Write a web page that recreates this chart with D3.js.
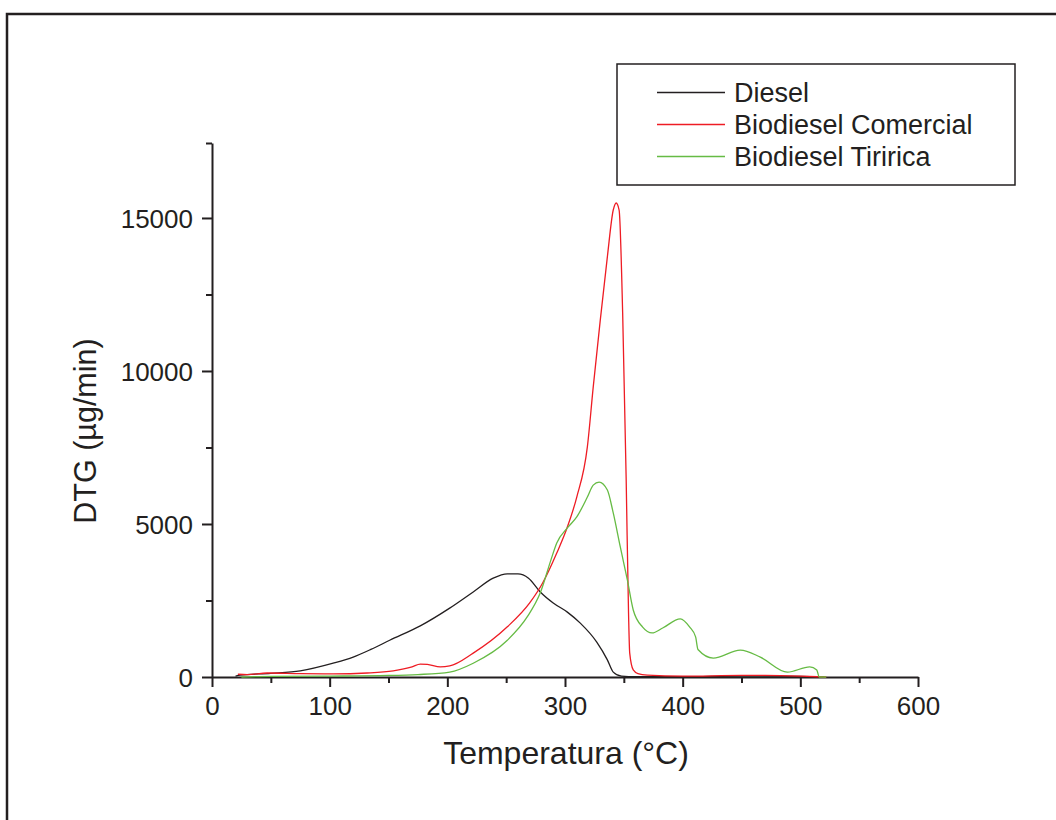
<!DOCTYPE html>
<html>
<head>
<meta charset="utf-8">
<script src="https://cdn.jsdelivr.net/npm/d3@7"></script>
<style>
  html, body { margin: 0; padding: 0; background: #fff; }
  svg { display: block; font-family: "Liberation Sans", Arial, sans-serif; }
</style>
</head>
<body>
<svg id="chart" width="1056" height="820"></svg>
<script>
// DTG curves: temperature (°C) and mass-loss rate (µg/min)
const tempDiesel = [20, 24, 50, 75, 103, 120, 135, 151, 177, 202, 222, 239, 251, 260, 269, 279, 290, 302, 313, 327, 336, 341, 348, 360, 400, 450, 500, 520];
const dtgDiesel  = [30, 60, 120, 200, 450, 650, 900, 1200, 1670, 2250, 2780, 3230, 3370, 3370, 3230, 2780, 2420, 2120, 1760, 1140, 560, 160, 30, 10, 10, 30, 20, 0];

const tempComercial = [22, 30, 47, 75, 103, 132, 154, 170, 177, 183, 194, 202, 222, 251, 270, 281, 293, 302, 310, 319, 324, 330, 336, 341, 343.5, 346, 349, 352, 354, 355, 358, 362, 370, 400, 450, 470, 500, 522];
const dtgComercial  = [90, 80, 130, 110, 100, 130, 200, 330, 420, 410, 330, 360, 780, 1640, 2420, 3070, 4050, 4900, 5880, 7520, 9480, 11670, 13730, 15260, 15490, 15260, 11900, 6440, 2090, 780, 230, 110, 60, 30, 50, 50, 30, 0];

const tempTiririca = [25, 50, 100, 150, 175, 202, 222, 251, 268, 279, 288, 293, 302, 310, 319, 324, 329, 336, 341, 347, 353, 358, 366, 374, 383, 398, 406, 411, 413, 426, 449, 466, 489, 508, 514, 516, 522];
const dtgTiririca  = [0, 20, 30, 50, 80, 160, 450, 1200, 1970, 2750, 3820, 4380, 4870, 5230, 5880, 6270, 6370, 6110, 5360, 4250, 3170, 2190, 1630, 1440, 1600, 1900, 1630, 1310, 900, 620, 880, 650, 160, 330, 230, 0, 0];

const seriesNames  = ["Diesel", "Biodiesel Comercial", "Biodiesel Tiririca"];
const seriesColors = ["#231f20", "#ee1c24", "#66bb44"];

const xTicks = [0, 100, 200, 300, 400, 500, 600];
const yTicks = [0, 5000, 10000, 15000];

const svg = d3.select("#chart");

// outer frame
svg.append("rect")
  .attr("x", 7).attr("y", 14).attr("width", 1100).attr("height", 900)
  .attr("fill", "none").attr("stroke", "#231f20").attr("stroke-width", 2.5);

const x = d3.scaleLinear().domain([0, 600]).range([212, 918]);
const y = d3.scaleLinear().domain([0, 17450]).range([677, 143]);

const axisColor = "#231f20";
const tickFont = 26;

// x axis with minor ticks
const gx = svg.append("g").attr("transform", `translate(0,${y(0)})`);
gx.call(d3.axisBottom(x).tickValues(d3.range(50, 600, 100)).tickSize(6).tickFormat(""));
gx.call(g => g.select(".domain").remove());
const gx2 = svg.append("g").attr("transform", `translate(0,${y(0)})`);
gx2.call(d3.axisBottom(x).tickValues(xTicks).tickSize(10).tickSizeOuter(0).tickPadding(10).tickFormat(d3.format("d")));

// y axis with minor ticks
const gy = svg.append("g").attr("transform", `translate(${x(0)},0)`);
gy.call(d3.axisLeft(y).tickValues([2500, 7500, 12500, 17450]).tickSize(6).tickFormat(""));
gy.call(g => g.select(".domain").remove());
const gy2 = svg.append("g").attr("transform", `translate(${x(0)},0)`);
gy2.call(d3.axisLeft(y).tickValues(yTicks).tickSize(10).tickSizeOuter(0).tickPadding(9).tickFormat(d3.format("d")));

svg.selectAll("g path.domain, g .tick line")
  .attr("stroke", axisColor).attr("stroke-width", 2);
svg.selectAll("g .tick text")
  .attr("fill", axisColor).attr("font-size", tickFont)
  .attr("font-family", "'Liberation Sans', Arial, sans-serif");
gy2.selectAll(".tick text").attr("dy", "0.36em");

// axis titles
svg.append("text")
  .attr("x", 566).attr("y", 764)
  .attr("text-anchor", "middle").attr("font-size", 32).attr("fill", axisColor)
  .text("Temperatura (°C)");
svg.append("text")
  .attr("transform", `translate(96,431) rotate(-90)`)
  .attr("text-anchor", "middle").attr("font-size", 30.5).attr("fill", axisColor)
  .text("DTG (µg/min)");

// curves
const line = d3.line()
  .x(d => x(d[0])).y(d => y(d[1]))
  .curve(d3.curveMonotoneX);

const series = [
  d3.zip(tempDiesel, dtgDiesel),
  d3.zip(tempComercial, dtgComercial),
  d3.zip(tempTiririca, dtgTiririca)
];

svg.append("g").selectAll("path")
  .data(series)
  .join("path")
  .attr("d", line)
  .attr("fill", "none")
  .attr("stroke", (d, i) => seriesColors[i])
  .attr("stroke-width", 1.3);

// legend
const legend = svg.append("g");
legend.append("rect")
  .attr("x", 617).attr("y", 64).attr("width", 398).attr("height", 121)
  .attr("fill", "#fff").attr("stroke", axisColor).attr("stroke-width", 1.5);
seriesNames.forEach((name, i) => {
  const cy = 92.5 + i * 32;
  legend.append("line")
    .attr("x1", 657).attr("x2", 725).attr("y1", cy).attr("y2", cy)
    .attr("stroke", seriesColors[i]).attr("stroke-width", 1.3);
  legend.append("text")
    .attr("x", 734).attr("y", cy).attr("dy", "0.36em")
    .attr("font-size", 27).attr("fill", axisColor)
    .text(name);
});
</script>
</body>
</html>
